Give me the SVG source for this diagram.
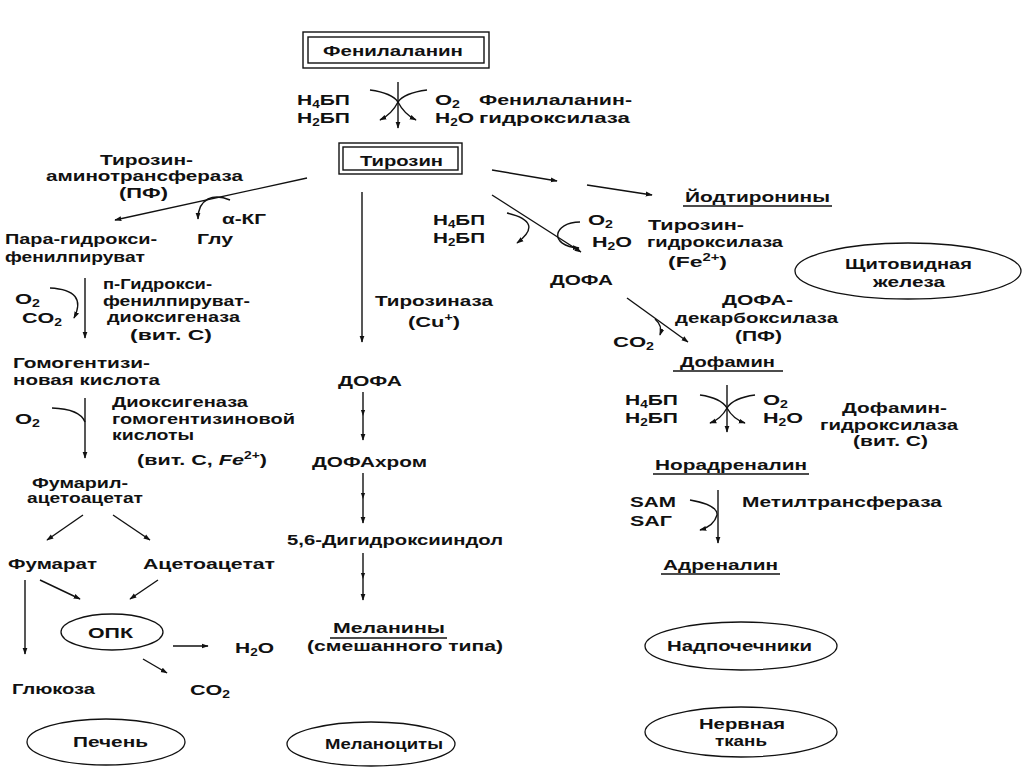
<svg xmlns="http://www.w3.org/2000/svg" width="1024" height="767" viewBox="0 0 1024 767">
<defs>
<marker id="a" viewBox="0 0 10 10" refX="9" refY="5" markerWidth="7" markerHeight="7" markerUnits="userSpaceOnUse" orient="auto"><path d="M0,1.5 L10,5 L0,8.5 z" fill="#111"/></marker>
<marker id="m" viewBox="0 0 10 10" refX="5" refY="5" markerWidth="6" markerHeight="6" markerUnits="userSpaceOnUse" orient="auto"><path d="M0,1.5 L10,5 L0,8.5 z" fill="#111"/></marker>
<style>
.t{font-family:"Liberation Sans",Arial,sans-serif;font-size:15.5px;font-weight:bold;fill:#111}
.s{font-size:10px}
.c{fill:none;stroke:#111;stroke-width:1.4}
.ca{fill:none;stroke:#111;stroke-width:1.4;marker-end:url(#a)}
.cm{fill:none;stroke:#111;stroke-width:1.4;marker-mid:url(#m);marker-end:url(#a)}
.b{fill:none;stroke:#111;stroke-width:1.4}
.e{fill:#fff;stroke:#111;stroke-width:1.3}
.u{stroke:#111;stroke-width:1.3}
</style>
</defs>
<rect width="1024" height="767" fill="#fff"/>

<g id="connectors">
<path class="ca" d="M398,82 L398,128"/>
<path class="c" d="M370,90 Q392,93 398,102"/>
<path class="c" d="M427,90 Q404,93 398,102"/>
<path class="ca" d="M398,102 Q392,114 380,120"/>
<path class="ca" d="M398,102 Q404,114 416,120"/>
<path class="ca" d="M307,178 L115,220"/>
<path class="ca" d="M230,200 C214,193 198,198 198,219"/>
<path class="ca" d="M85,278 L85,338"/>
<path class="ca" d="M50,288 Q88,290 74,318"/>
<path class="ca" d="M85,398 L85,458"/>
<path class="c" d="M52,408 Q80,409 85,422"/>
<path class="ca" d="M83,515 L47,540"/>
<path class="ca" d="M113,515 L150,540"/>
<path class="ca" d="M25,580 L25,654"/>
<path class="ca" d="M40,580 L80,599"/>
<path class="ca" d="M158,580 L130,599"/>
<path class="ca" d="M173,646 L208,646"/>
<path class="ca" d="M143,659 L167,673"/>
<path class="ca" d="M362,192 L362,342"/>
<polyline class="cm" points="363,392 363,413 363,440"/>
<polyline class="cm" points="363,473 363,496 363,523"/>
<polyline class="cm" points="363,553 363,576 363,600"/>
<path class="ca" d="M492,170 L557,181"/>
<path class="ca" d="M587,185 L652,195"/>
<path class="ca" d="M492,195 L581,252"/>
<path class="ca" d="M507,213 Q545,222 517,243"/>
<path class="ca" d="M580,222 C553,222 548,246 579,248"/>
<path class="ca" d="M627,298 L688,342"/>
<path class="ca" d="M655,319 Q663,326 660,335"/>
<path class="ca" d="M727,385 L727,432"/>
<path class="c" d="M700,395 Q721,398 727,408"/>
<path class="c" d="M755,395 Q733,398 727,408"/>
<path class="ca" d="M727,408 Q721,419 710,423"/>
<path class="ca" d="M727,408 Q733,419 745,423"/>
<path class="ca" d="M718,490 L718,543"/>
<path class="ca" d="M690,500 Q718,505 717,515 Q714,526 700,530"/>
</g>

<g id="phe">
<rect class="b" x="303" y="32" width="186" height="36"/>
<rect class="b" x="308" y="37" width="176" height="26"/>
<text class="t" x="323" y="56" textLength="140" lengthAdjust="spacingAndGlyphs">Фенилаланин</text>
</g>
<g id="phe-cof">
<text class="t" x="297" y="105" textLength="53" lengthAdjust="spacingAndGlyphs">H<tspan class="s" dy="3">4</tspan><tspan dy="-3">БП</tspan></text>
<text class="t" x="297" y="123" textLength="53" lengthAdjust="spacingAndGlyphs">H<tspan class="s" dy="3">2</tspan><tspan dy="-3">БП</tspan></text>
<text class="t" x="435" y="105" textLength="25" lengthAdjust="spacingAndGlyphs">O<tspan class="s" dy="3">2</tspan></text>
<text class="t" x="435" y="123" textLength="39" lengthAdjust="spacingAndGlyphs">H<tspan class="s" dy="3">2</tspan><tspan dy="-3">O</tspan></text>
<text class="t" x="479" y="105" textLength="153" lengthAdjust="spacingAndGlyphs">Фенилаланин-</text>
<text class="t" x="479" y="123" textLength="151" lengthAdjust="spacingAndGlyphs">гидроксилаза</text>
</g>
<g id="tyr">
<rect class="b" x="339" y="143" width="123" height="31"/>
<rect class="b" x="343" y="147" width="115" height="23"/>
<text class="t" x="360" y="166" textLength="83" lengthAdjust="spacingAndGlyphs">Тирозин</text>
</g>
<g id="tat">
<text class="t" x="100" y="165" textLength="93" lengthAdjust="spacingAndGlyphs">Тирозин-</text>
<text class="t" x="46" y="181" textLength="197" lengthAdjust="spacingAndGlyphs">аминотрансфераза</text>
<text class="t" x="119" y="198" textLength="49" lengthAdjust="spacingAndGlyphs">(ПФ)</text>
<text class="t" x="222" y="224" textLength="44" lengthAdjust="spacingAndGlyphs">α-КГ</text>
<text class="t" x="197" y="244" textLength="36" lengthAdjust="spacingAndGlyphs">Глу</text>
</g>
<g id="phpp">
<text class="t" x="5" y="244" textLength="152" lengthAdjust="spacingAndGlyphs">Пара-гидрокси-</text>
<text class="t" x="5" y="262" textLength="140" lengthAdjust="spacingAndGlyphs">фенилпируват</text>
</g>
<g id="phpp-enz">
<text class="t" x="103" y="289" textLength="109" lengthAdjust="spacingAndGlyphs">п-Гидрокси-</text>
<text class="t" x="103" y="306" textLength="147" lengthAdjust="spacingAndGlyphs">фенилпируват-</text>
<text class="t" x="107" y="322" textLength="133" lengthAdjust="spacingAndGlyphs">диоксигеназа</text>
<text class="t" x="130" y="340" textLength="82" lengthAdjust="spacingAndGlyphs">(вит. С)</text>
<text class="t" x="15" y="304" textLength="25" lengthAdjust="spacingAndGlyphs">O<tspan class="s" dy="3">2</tspan></text>
<text class="t" x="22" y="323" textLength="40" lengthAdjust="spacingAndGlyphs">CO<tspan class="s" dy="3">2</tspan></text>
</g>
<g id="hga">
<text class="t" x="13" y="368" textLength="137" lengthAdjust="spacingAndGlyphs">Гомогентизи-</text>
<text class="t" x="13" y="385" textLength="147" lengthAdjust="spacingAndGlyphs">новая кислота</text>
</g>
<g id="hga-enz">
<text class="t" x="15" y="424" textLength="25" lengthAdjust="spacingAndGlyphs">O<tspan class="s" dy="3">2</tspan></text>
<text class="t" x="112" y="407" textLength="136" lengthAdjust="spacingAndGlyphs">Диоксигеназа</text>
<text class="t" x="112" y="424" textLength="183" lengthAdjust="spacingAndGlyphs">гомогентизиновой</text>
<text class="t" x="112" y="440" textLength="82" lengthAdjust="spacingAndGlyphs">кислоты</text>
<text class="t" x="137" y="465" textLength="130" lengthAdjust="spacingAndGlyphs">(вит. С, <tspan font-style="italic">Fe</tspan><tspan class="s" dy="-6">2+</tspan><tspan dy="6">)</tspan></text>
</g>
<g id="faa">
<text class="t" x="32" y="488" textLength="96" lengthAdjust="spacingAndGlyphs">Фумарил-</text>
<text class="t" x="27" y="503" textLength="116" lengthAdjust="spacingAndGlyphs">ацетоацетат</text>
</g>
<g id="fumarate"><text class="t" x="8" y="569" textLength="89" lengthAdjust="spacingAndGlyphs">Фумарат</text></g>
<g id="acetoacetate"><text class="t" x="143" y="569" textLength="132" lengthAdjust="spacingAndGlyphs">Ацетоацетат</text></g>
<g id="opk">
<ellipse class="e" cx="112" cy="632" rx="51" ry="18"/>
<text class="t" x="88" y="638" textLength="45" lengthAdjust="spacingAndGlyphs">ОПК</text>
</g>
<g id="h2o-opk"><text class="t" x="235" y="653" textLength="39" lengthAdjust="spacingAndGlyphs">H<tspan class="s" dy="3">2</tspan><tspan dy="-3">O</tspan></text></g>
<g id="glucose"><text class="t" x="12" y="694" textLength="83" lengthAdjust="spacingAndGlyphs">Глюкоза</text></g>
<g id="co2-opk"><text class="t" x="190" y="695" textLength="40" lengthAdjust="spacingAndGlyphs">CO<tspan class="s" dy="3">2</tspan></text></g>
<g id="liver">
<ellipse class="e" cx="106" cy="742" rx="79" ry="23"/>
<text class="t" x="73" y="747" textLength="75" lengthAdjust="spacingAndGlyphs">Печень</text>
</g>
<g id="melanocytes">
<ellipse class="e" cx="371" cy="744" rx="84" ry="22"/>
<text class="t" x="325" y="749" textLength="118" lengthAdjust="spacingAndGlyphs">Меланоциты</text>
</g>

<g id="tyrosinase">
<text class="t" x="375" y="306" textLength="118" lengthAdjust="spacingAndGlyphs">Тирозиназа</text>
<text class="t" x="408" y="327" textLength="52" lengthAdjust="spacingAndGlyphs">(Cu<tspan class="s" dy="-6">+</tspan><tspan dy="6">)</tspan></text>
</g>
<g id="dopa-mel"><text class="t" x="338" y="386" textLength="64" lengthAdjust="spacingAndGlyphs">ДОФА</text></g>
<g id="dopachrome"><text class="t" x="312" y="467" textLength="115" lengthAdjust="spacingAndGlyphs">ДОФАхром</text></g>
<g id="dhi"><text class="t" x="287" y="545" textLength="216" lengthAdjust="spacingAndGlyphs">5,6-Дигидроксииндол</text></g>
<g id="melanins">
<text class="t" x="333" y="633" textLength="112" lengthAdjust="spacingAndGlyphs">Меланины</text>
<line class="u" x1="330" y1="638" x2="447" y2="638"/>
<text class="t" x="307" y="651" textLength="196" lengthAdjust="spacingAndGlyphs">(смешанного типа)</text>
</g>

<g id="iodothyronines">
<text class="t" x="685" y="202" textLength="145" lengthAdjust="spacingAndGlyphs">Йодтиронины</text>
<line class="u" x1="683" y1="206" x2="832" y2="206"/>
</g>
<g id="th-cof">
<text class="t" x="433" y="225" textLength="52" lengthAdjust="spacingAndGlyphs">H<tspan class="s" dy="3">4</tspan><tspan dy="-3">БП</tspan></text>
<text class="t" x="433" y="243" textLength="52" lengthAdjust="spacingAndGlyphs">H<tspan class="s" dy="3">2</tspan><tspan dy="-3">БП</tspan></text>
<text class="t" x="588" y="225" textLength="25" lengthAdjust="spacingAndGlyphs">O<tspan class="s" dy="3">2</tspan></text>
<text class="t" x="592" y="247" textLength="40" lengthAdjust="spacingAndGlyphs">H<tspan class="s" dy="3">2</tspan><tspan dy="-3">O</tspan></text>
</g>
<g id="th-enz">
<text class="t" x="648" y="230" textLength="96" lengthAdjust="spacingAndGlyphs">Тирозин-</text>
<text class="t" x="647" y="247" textLength="136" lengthAdjust="spacingAndGlyphs">гидроксилаза</text>
<text class="t" x="668" y="267" textLength="59" lengthAdjust="spacingAndGlyphs">(Fe<tspan class="s" dy="-6">2+</tspan><tspan dy="6">)</tspan></text>
</g>
<g id="dopa-right"><text class="t" x="550" y="285" textLength="63" lengthAdjust="spacingAndGlyphs">ДОФА</text></g>
<g id="thyroid">
<ellipse class="e" cx="908" cy="271" rx="113" ry="28"/>
<text class="t" x="845" y="269" textLength="127" lengthAdjust="spacingAndGlyphs">Щитовидная</text>
<text class="t" x="873" y="287" textLength="72" lengthAdjust="spacingAndGlyphs">железа</text>
</g>
<g id="ddc">
<text class="t" x="722" y="305" textLength="71" lengthAdjust="spacingAndGlyphs">ДОФА-</text>
<text class="t" x="675" y="323" textLength="163" lengthAdjust="spacingAndGlyphs">декарбоксилаза</text>
<text class="t" x="735" y="341" textLength="47" lengthAdjust="spacingAndGlyphs">(ПФ)</text>
<text class="t" x="613" y="347" textLength="41" lengthAdjust="spacingAndGlyphs">CO<tspan class="s" dy="3">2</tspan></text>
</g>
<g id="dopamine">
<text class="t" x="680" y="367" textLength="95" lengthAdjust="spacingAndGlyphs">Дофамин</text>
<line class="u" x1="673" y1="371" x2="783" y2="371"/>
</g>
<g id="dbh">
<text class="t" x="625" y="405" textLength="53" lengthAdjust="spacingAndGlyphs">H<tspan class="s" dy="3">4</tspan><tspan dy="-3">БП</tspan></text>
<text class="t" x="625" y="423" textLength="53" lengthAdjust="spacingAndGlyphs">H<tspan class="s" dy="3">2</tspan><tspan dy="-3">БП</tspan></text>
<text class="t" x="763" y="405" textLength="25" lengthAdjust="spacingAndGlyphs">O<tspan class="s" dy="3">2</tspan></text>
<text class="t" x="763" y="423" textLength="40" lengthAdjust="spacingAndGlyphs">H<tspan class="s" dy="3">2</tspan><tspan dy="-3">O</tspan></text>
<text class="t" x="842" y="413" textLength="105" lengthAdjust="spacingAndGlyphs">Дофамин-</text>
<text class="t" x="820" y="430" textLength="138" lengthAdjust="spacingAndGlyphs">гидроксилаза</text>
<text class="t" x="853" y="446" textLength="75" lengthAdjust="spacingAndGlyphs">(вит. С)</text>
</g>
<g id="noradrenaline">
<text class="t" x="655" y="470" textLength="152" lengthAdjust="spacingAndGlyphs">Норадреналин</text>
<line class="u" x1="653" y1="474" x2="809" y2="474"/>
</g>
<g id="mt">
<text class="t" x="630" y="507" textLength="46" lengthAdjust="spacingAndGlyphs">SAM</text>
<text class="t" x="630" y="526" textLength="42" lengthAdjust="spacingAndGlyphs">SAГ</text>
<text class="t" x="742" y="507" textLength="200" lengthAdjust="spacingAndGlyphs">Метилтрансфераза</text>
</g>
<g id="adrenaline">
<text class="t" x="663" y="570" textLength="115" lengthAdjust="spacingAndGlyphs">Адреналин</text>
<line class="u" x1="661" y1="574" x2="780" y2="574"/>
</g>
<g id="adrenals">
<ellipse class="e" cx="741" cy="646" rx="96" ry="24"/>
<text class="t" x="667" y="651" textLength="145" lengthAdjust="spacingAndGlyphs">Надпочечники</text>
</g>
<g id="nerve">
<ellipse class="e" cx="741" cy="732" rx="96" ry="25"/>
<text class="t" x="699" y="729" textLength="86" lengthAdjust="spacingAndGlyphs">Нервная</text>
<text class="t" x="715" y="746" textLength="52" lengthAdjust="spacingAndGlyphs">ткань</text>
</g>
</svg>
